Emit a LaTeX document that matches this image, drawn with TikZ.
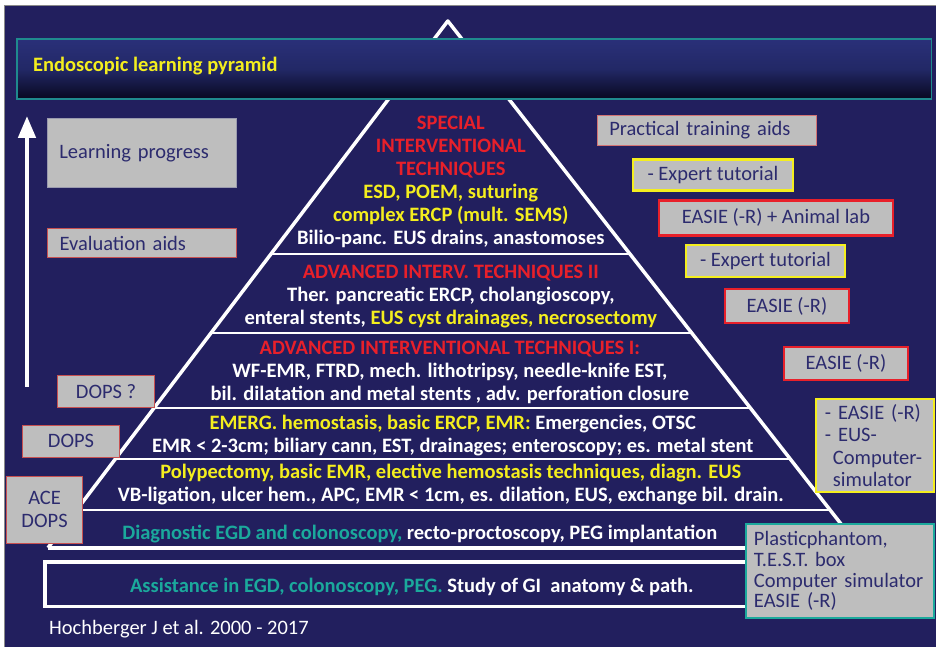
\documentclass[tikz,border=0pt]{standalone}
\usepackage{fontspec}
\setmainfont{Carlito}
\usetikzlibrary{arrows.meta}

\definecolor{navybg}{HTML}{221F5E}
\definecolor{framegray}{HTML}{8A8A8A}
\definecolor{bartop}{HTML}{2A3079}
\definecolor{barmid}{HTML}{222866}
\definecolor{barbot}{HTML}{080820}
\definecolor{barline}{HTML}{1F8A8E}
\definecolor{boxgray}{HTML}{BEBEBE}
\definecolor{boxtext}{HTML}{2C2B6E}
\definecolor{softgray}{HTML}{9A9AAE}
\definecolor{edgered}{HTML}{C85050}
\definecolor{lvred}{HTML}{E8202A}
\definecolor{lvyellow}{HTML}{F4EE1E}
\definecolor{lvteal}{HTML}{1BA99C}

\newcommand{\pyrfont}{\fontsize{20.5}{23}\selectfont}
\newcommand{\boxfont}{\fontsize{20.5}{23}\selectfont}
\newcommand{\lvR}[1]{{\color{lvred}#1}}
\newcommand{\lvY}[1]{{\color{lvyellow}#1}}
\newcommand{\lvT}[1]{{\color{lvteal}#1}}

\tikzset{
  titlebar/.style={draw=barline, line width=1.2pt, top color=bartop, bottom color=barbot, middle color=barmid, minimum width=915pt, minimum height=60pt, inner sep=0pt},
  pyrline/.style={white, line width=3.5pt},
  levelline/.style={white, line width=2.4pt},
  lvtext/.style={text=white, font=\pyrfont\bfseries, align=center, inner sep=0pt},
  aidbox/.style={fill=boxgray, text=boxtext, font=\boxfont, inner sep=0pt, anchor=north west, align=center},
  thinred/.style={draw=edgered, line width=1.2pt},
  thickred/.style={draw=lvred, line width=2.6pt},
  thickyellow/.style={draw=lvyellow, line width=2.6pt},
  thickteal/.style={draw=lvteal, line width=2.6pt},
}

\begin{document}
\begin{tikzpicture}[x=1pt, y=-1pt]
    % Page and navy background
    \fill[white] (0,0) rectangle (936,647);
    \fill[navybg] (4,5) rectangle (936,647);
    \draw[framegray, line width=0.8pt] (4,647) -- (4,5) -- (936,5);

    % Pyramid outline
    \coordinate (apex) at (448,21);
    \coordinate (footL) at (48,548);
    \coordinate (footR) at (860,548);
    \draw[pyrline, line join=round] (footL) -- (apex) -- (footR);
    \draw[white, line width=4.5pt] (footL) -- (footR); % base

    % Lines between the levels
    \foreach \y in {254,333,408,459,510}
        \draw[levelline] ({448-(\y-21)/527*400},\y) -- ({448+(\y-21)/527*412},\y);

    % Bottom level (outside the pyramid)
    \draw[white, line width=3.5pt] (45,562) rectangle (880,607);

    % Title bar
    \node[titlebar] (bar) at (474.5,69) {};
    \node[anchor=west, inner sep=0pt, text=lvyellow, font=\pyrfont\bfseries] (title) at (33,66) {Endoscopic learning pyramid};

    % Learning progress arrow
    \coordinate (arrowfoot) at (27,387);
    \coordinate (arrowtip) at (27,116);
    \draw[white, line width=4.5pt, -{Triangle[width=17pt,length=22pt]}] (arrowfoot) -- (arrowtip);

    % Text of the levels, top to bottom
    \node[lvtext] (lvsix) at (451,182) {\lvR{SPECIAL}\\\lvR{INTERVENTIONAL}\\\lvR{TECHNIQUES}\\
        \lvY{ESD, POEM, suturing}\\\lvY{complex ERCP (mult. SEMS)}\\Bilio-panc. EUS drains, anastomoses};
    \node[lvtext] (lvfive) at (451,297) {\lvR{ADVANCED INTERV. TECHNIQUES II}\\Ther. pancreatic ERCP, cholangioscopy,\\
        enteral stents, \lvY{EUS cyst drainages, necrosectomy}};
    \node[lvtext] (lvfour) at (450,373) {\lvR{ADVANCED INTERVENTIONAL TECHNIQUES I:}\\WF-EMR, FTRD, mech. lithotripsy, needle-knife EST,\\
        bil. dilatation and metal stents , adv. perforation closure};
    \node[lvtext] (lvthree) at (453,436) {\lvY{EMERG. hemostasis, basic ERCP, EMR:} Emergencies, OTSC\\
        EMR < 2-3cm; biliary cann, EST, drainages; enteroscopy; es. metal stent};
    \node[lvtext] (lvtwo) at (451,485) {\lvY{Polypectomy, basic EMR, elective hemostasis techniques, diagn. EUS}\\
        VB-ligation, ulcer hem., APC, EMR < 1cm, es. dilation, EUS, exchange bil. drain.};
    \node[lvtext] (lvone) at (420,534) {\lvT{Diagnostic EGD and colonoscopy,} recto-proctoscopy, PEG implantation};
    \node[lvtext] (lvzero) at (412,587) {\lvT{Assistance in EGD, colonoscopy, PEG.} Study of GI\ \ anatomy \& path.};

    % Reference
    \node[anchor=west, inner sep=0pt, text=white, font=\pyrfont] (source) at (49,629) {Hochberger J et al. 2000 - 2017};

    % Left column: progress and evaluation aids
    \node[aidbox, draw=softgray, line width=0.8pt, minimum width=189pt, minimum height=69pt,
        text width=165pt, inner xsep=12pt, align=left] (learn) at (47,118) {Learning progress};
    \node[aidbox, thinred, minimum width=189pt, minimum height=29pt,
        text width=165pt, inner xsep=12pt, align=left] (evalaids) at (47,228) {Evaluation aids};
    \node[aidbox, thinred, minimum width=97pt, minimum height=32pt] (dopsq) at (57,375) {DOPS ?};
    \node[aidbox, thinred, minimum width=97pt, minimum height=32pt] (dops) at (22,425) {DOPS};
    \node[aidbox, thinred, minimum width=76pt, minimum height=67pt] (acedops) at (6,476) {ACE\\DOPS};

    % Right column: practical training aids
    \node[aidbox, draw=edgered!80!white, line width=1.2pt, minimum width=219pt, minimum height=30pt,
        text width=195pt, inner xsep=12pt, align=left] (practical) at (597,115) {Practical training aids};
    \node[aidbox, thickyellow, minimum width=160pt, minimum height=31pt] (tutorA) at (632,158) {- Expert tutorial};
    \node[aidbox, thickred, minimum width=234pt, minimum height=35pt] (animal) at (658,199) {EASIE (-R) + Animal lab};
    \node[aidbox, thickyellow, minimum width=159pt, minimum height=32pt] (tutorB) at (685,244) {- Expert tutorial};
    \node[aidbox, thickred, minimum width=124pt, minimum height=34pt] (easieA) at (724,288) {EASIE (-R)};
    \node[aidbox, thickred, minimum width=124pt, minimum height=33pt] (easieB) at (783,346) {EASIE (-R)};
    \node[aidbox, thickyellow, minimum width=118pt, minimum height=93pt, font=\fontsize{20.5}{22.6}\selectfont,
        text width=100pt, inner xsep=9pt, align=left] (eussim) at (815,398)
        {- EASIE (-R)\\- EUS-\\\hspace*{8pt}Computer-\\\hspace*{8pt}simulator};
    \node[aidbox, thickteal, minimum width=188pt, minimum height=94pt, font=\fontsize{20.5}{20.7}\selectfont,
        text width=172pt, inner xsep=8pt, align=left] (phantom) at (745,523)
        {Plasticphantom,\\T.E.S.T. box\\Computer simulator\\EASIE (-R)};
\end{tikzpicture}
\end{document}
